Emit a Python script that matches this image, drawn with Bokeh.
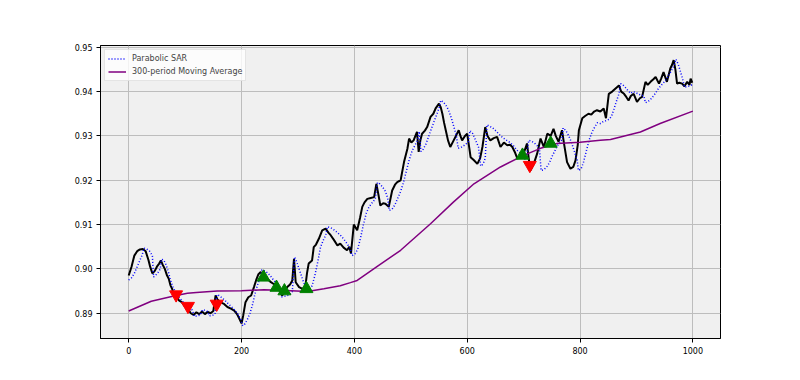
from bokeh.plotting import figure
from bokeh.models import Range1d, FixedTicker, Legend, LegendItem
from bokeh.embed import file_html
from bokeh.resources import INLINE

# ---- data ----
price_x = [0, 5, 10, 15, 20, 25, 30, 35, 38, 42, 46, 50, 54, 57, 60, 64, 68, 71, 74, 77, 80, 84, 89, 94, 98,
           101, 105, 110, 115, 120, 125, 130, 135, 140, 145, 150, 154, 157, 162, 169, 175, 182, 187, 192, 196,
           200, 203, 207, 212, 217, 222, 226, 230, 234, 238, 243, 248, 252, 257, 263, 268, 272, 276, 281, 286,
           290, 293, 296, 302, 308, 313, 316, 319, 325, 328, 332, 337, 343, 349, 354, 358, 364, 370, 375, 381,
           387, 391, 394, 399, 405, 410, 414, 418, 423, 429, 435, 439, 443, 446, 451, 455, 461, 467, 472, 476,
           482, 488, 494, 497, 501, 505, 511, 514, 517, 520, 525, 529, 535, 540, 544, 550, 553, 556, 559, 562,
           566, 570, 576, 580, 585, 588, 591, 596, 600, 604, 606, 612, 618, 623, 627, 632, 636, 641, 647, 653,
           659, 665, 671, 676, 680, 685, 689, 694, 700, 706, 709, 712, 718, 724, 730, 736, 742, 748, 753, 757,
           762, 768, 772, 777, 783, 788, 792, 796, 798, 804, 809, 815, 820, 825, 830, 836, 842, 846, 851, 857,
           863, 869, 873, 878, 882, 886, 890, 895, 901, 906, 910, 916, 920, 925, 930, 934, 940, 944, 948, 954,
           960, 963, 966, 969, 972, 976, 981, 985, 990, 994, 996, 999]
price = [0.8985, 0.9005, 0.9030, 0.9040, 0.9044, 0.9045, 0.9040, 0.9020, 0.9005, 0.8990, 0.8995, 0.9005,
         0.9012, 0.9019, 0.9010, 0.9000, 0.8985, 0.8978, 0.8963, 0.8955, 0.8942, 0.8942, 0.8929, 0.8925,
         0.8918, 0.8914, 0.8910, 0.8900, 0.8896, 0.8902, 0.8898, 0.8904, 0.8898, 0.8903, 0.8900, 0.8905,
         0.8940, 0.8932, 0.8925, 0.8921, 0.8914, 0.8910, 0.8906, 0.8898, 0.8888, 0.8877, 0.8895, 0.8925,
         0.8936, 0.8940, 0.8959, 0.8975, 0.8988, 0.8993, 0.8985, 0.8981, 0.8975, 0.8970, 0.8966, 0.8959,
         0.8950, 0.8940, 0.8948, 0.8959, 0.8965, 0.8974, 0.9023, 0.8970, 0.8959, 0.8955, 0.8959, 0.8990,
         0.9012, 0.9019, 0.9049, 0.9055, 0.9068, 0.9087, 0.9091, 0.9082, 0.9076, 0.9065, 0.9053, 0.9057,
         0.9048, 0.9042, 0.9050, 0.9035, 0.9100, 0.9087, 0.9115, 0.9140, 0.9150, 0.9158, 0.9160, 0.9162,
         0.9192, 0.9165, 0.9143, 0.9148, 0.9147, 0.9140, 0.9177, 0.9190, 0.9196, 0.9200, 0.9241, 0.9271,
         0.9294, 0.9285, 0.9290, 0.9309, 0.9264, 0.9290, 0.9305, 0.9312, 0.9320, 0.9343, 0.9350, 0.9362,
         0.9373, 0.9365, 0.9350, 0.9330, 0.9313, 0.9290, 0.9275, 0.9290, 0.9300, 0.9313, 0.9300, 0.9290,
         0.9300, 0.9305, 0.9270, 0.9252, 0.9245, 0.9237, 0.9250, 0.9275, 0.9320, 0.9300, 0.9290, 0.9295,
         0.9298, 0.9275, 0.9285, 0.9279, 0.9280, 0.9275, 0.9262, 0.9249, 0.9252, 0.9260, 0.9283, 0.9250,
         0.9222, 0.9237, 0.9260, 0.9294, 0.9275, 0.9305, 0.9300, 0.9316, 0.9300, 0.9287, 0.9313, 0.9280,
         0.9241, 0.9226, 0.9230, 0.9245, 0.9280, 0.9313, 0.9340, 0.9345, 0.9350, 0.9348, 0.9355, 0.9358,
         0.9355, 0.9362, 0.9340, 0.9395, 0.9400, 0.9407, 0.9414, 0.9400, 0.9395, 0.9388, 0.9380, 0.9390,
         0.9395, 0.9377, 0.9385, 0.9388, 0.9422, 0.9415, 0.9422, 0.9428, 0.9433, 0.9418, 0.9430, 0.9444,
         0.9422, 0.9452, 0.9460, 0.9471, 0.9450, 0.9418, 0.9420, 0.9418, 0.9412, 0.9422, 0.9415, 0.9429,
         0.9420]

sar_x = [0, 5, 10, 15, 20, 24, 27, 32, 37, 42, 44, 48, 52, 56, 58, 62, 66, 70, 74, 78, 82, 86, 90, 95, 100,
         105, 110, 113, 116, 122, 127, 131, 136, 140, 143, 148, 153, 156, 160, 165, 170, 176, 182, 188, 194,
         199, 202, 206, 210, 215, 220, 225, 230, 234, 236, 240, 245, 250, 255, 260, 264, 268, 271, 276, 281,
         286, 290, 294, 298, 302, 306, 310, 314, 317, 320, 325, 330, 335, 340, 345, 349, 352, 358, 364, 370,
         376, 382, 388, 393, 396, 402, 406, 411, 416, 421, 426, 432, 437, 441, 445, 450, 455, 459, 462, 467,
         472, 477, 482, 487, 492, 497, 502, 507, 512, 515, 518, 522, 527, 532, 537, 542, 547, 551, 553, 557,
         562, 567, 572, 577, 581, 584, 589, 594, 598, 602, 605, 610, 615, 620, 624, 628, 632, 635, 640, 646,
         652, 658, 664, 670, 676, 682, 688, 694, 701, 705, 709, 714, 719, 724, 728, 731, 736, 741, 746, 751,
         756, 760, 764, 768, 770, 775, 780, 785, 790, 795, 797, 802, 806, 811, 816, 821, 826, 831, 836, 841,
         845, 852, 856, 860, 865, 869, 872, 876, 880, 885, 890, 894, 898, 903, 908, 913, 916, 921, 927, 933,
         938, 943, 948, 953, 958, 963, 967, 970, 974, 978, 982, 985, 990, 995, 999]
sar = [0.8975, 0.8980, 0.8990, 0.9005, 0.9020, 0.9032, 0.9047, 0.9045, 0.9040, 0.9030, 0.8982, 0.8986,
       0.8992, 0.9000, 0.9022, 0.9020, 0.9010, 0.8995, 0.8975, 0.8960, 0.8950, 0.8942, 0.8935, 0.8927,
       0.8920, 0.8914, 0.8910, 0.8907, 0.8893, 0.8894, 0.8896, 0.8908, 0.8906, 0.8904, 0.8894, 0.8895,
       0.8898, 0.8942, 0.8940, 0.8935, 0.8930, 0.8922, 0.8915, 0.8907, 0.8897, 0.8885, 0.8872, 0.8876,
       0.8885, 0.8900, 0.8922, 0.8950, 0.8970, 0.8980, 0.8998, 0.8996, 0.8992, 0.8986, 0.8978, 0.8970,
       0.8962, 0.8958, 0.8937, 0.8938, 0.8940, 0.8943, 0.8948, 0.9027, 0.9015, 0.9000, 0.8985, 0.8970,
       0.8958, 0.8950, 0.8952, 0.8962, 0.8985, 0.9015, 0.9049, 0.9065, 0.9075, 0.9095, 0.9093, 0.9088,
       0.9082, 0.9075, 0.9066, 0.9055, 0.9045, 0.9030, 0.9035, 0.9045, 0.9070, 0.9100, 0.9125, 0.9140,
       0.9150, 0.9158, 0.9195, 0.9192, 0.9185, 0.9175, 0.9160, 0.9132, 0.9135, 0.9145, 0.9160, 0.9175,
       0.9195, 0.9220, 0.9245, 0.9265, 0.9278, 0.9290, 0.9310, 0.9265, 0.9270, 0.9282, 0.9300, 0.9318,
       0.9335, 0.9352, 0.9366, 0.9380, 0.9377, 0.9370, 0.9358, 0.9340, 0.9318, 0.9298, 0.9272, 0.9274,
       0.9278, 0.9282, 0.9286, 0.9312, 0.9305, 0.9290, 0.9275, 0.9232, 0.9236, 0.9250, 0.9325, 0.9322,
       0.9317, 0.9310, 0.9302, 0.9295, 0.9290, 0.9285, 0.9278, 0.9268, 0.9262, 0.9247, 0.9250, 0.9290,
       0.9288, 0.9284, 0.9278, 0.9272, 0.9222, 0.9224, 0.9230, 0.9240, 0.9255, 0.9268, 0.9278, 0.9285,
       0.9292, 0.9318, 0.9312, 0.9300, 0.9285, 0.9265, 0.9245, 0.9222, 0.9226, 0.9240, 0.9265, 0.9290,
       0.9308, 0.9320, 0.9330, 0.9328, 0.9332, 0.9334, 0.9338, 0.9345, 0.9360, 0.9380, 0.9395, 0.9418,
       0.9415, 0.9410, 0.9402, 0.9396, 0.9400, 0.9398, 0.9395, 0.9392, 0.9390, 0.9375, 0.9378, 0.9385,
       0.9395, 0.9405, 0.9413, 0.9420, 0.9428, 0.9438, 0.9450, 0.9460, 0.9473, 0.9462, 0.9445, 0.9428,
       0.9410, 0.9411, 0.9413, 0.9416]

ma_x = [0, 40, 80, 104, 120, 157, 200, 240, 288, 317, 346, 375, 393, 405, 440, 482, 535, 575, 612, 659,
        700, 730, 759, 800, 836, 854, 907, 942, 1000]
ma = [0.8905, 0.8927, 0.8939, 0.8945, 0.8947, 0.8950, 0.8951, 0.8953, 0.8951, 0.8949, 0.8955, 0.8962,
      0.8969, 0.8974, 0.9005, 0.9042, 0.9102, 0.9150, 0.9192, 0.9230, 0.9256, 0.9272, 0.9283, 0.9286,
      0.9290, 0.9292, 0.9309, 0.9328, 0.9356]

sell_x = [84, 105, 156, 711]
sell_y = [0.8942, 0.8916, 0.8921, 0.9234]
buy_x = [239, 262, 276, 315, 698, 748]
buy_y = [0.8981, 0.8958, 0.8950, 0.8955, 0.9256, 0.9283]

x_ticks = [0, 200, 400, 600, 800, 1000]
y_ticks = [0.89, 0.90, 0.91, 0.92, 0.93, 0.94, 0.95]

FONT = "DejaVu Sans"

p = figure(width=784, height=364, output_backend="svg", toolbar_location=None,
           x_range=Range1d(-50, 1049), y_range=Range1d(0.8843, 0.9504),
           min_border_left=100, min_border_right=64, min_border_top=45, min_border_bottom=26)
p.background_fill_color = "#f0f0f0"
p.border_fill_color = "white"
p.outline_line_color = "black"
p.outline_line_width = 1

for ax in (p.xaxis[0], p.yaxis[0]):
    ax.axis_line_color = "black"
    ax.major_tick_line_color = "black"
    ax.major_tick_in = 0
    ax.major_tick_out = 4
    ax.minor_tick_line_color = None
    ax.major_label_text_font = FONT
    ax.major_label_text_font_size = "8px"
    ax.major_label_text_color = "black"
    ax.major_label_standoff = 4
p.xaxis.ticker = FixedTicker(ticks=x_ticks)
p.yaxis.ticker = FixedTicker(ticks=y_ticks)
p.xaxis.major_label_overrides = {t: str(t) for t in x_ticks}
p.yaxis.major_label_overrides = {t: f"{t:.2f}" for t in y_ticks}

p.xgrid.ticker = FixedTicker(ticks=x_ticks)
p.ygrid.ticker = FixedTicker(ticks=y_ticks)
p.grid.grid_line_color = "#bdbdbd"
p.grid.grid_line_width = 1

p.line(price_x, price, line_color="black", line_width=2)
r_sar = p.line(sar_x, sar, line_color="blue", line_width=1.5, line_dash="1 2")
r_ma = p.line(ma_x, ma, line_color="purple", line_width=1.5)
p.scatter(sell_x, sell_y, marker="inverted_triangle", size=13, fill_color="red", line_color="red")
p.scatter(buy_x, buy_y, marker="triangle", size=13, fill_color="green", line_color="green")

legend = Legend(items=[LegendItem(label="Parabolic SAR", renderers=[r_sar]),
                       LegendItem(label="300-period Moving Average", renderers=[r_ma])],
                location="top_left", margin=4, padding=3, spacing=2,
                glyph_width=18, glyph_height=11, label_height=11, label_standoff=6,
                label_text_font=FONT, label_text_font_size="8px",
                background_fill_color="white", background_fill_alpha=0.8,
                border_line_color="#cccccc", border_line_width=1)
p.add_layout(legend, "center")

open("out.html", "w").write(file_html(p, INLINE))
